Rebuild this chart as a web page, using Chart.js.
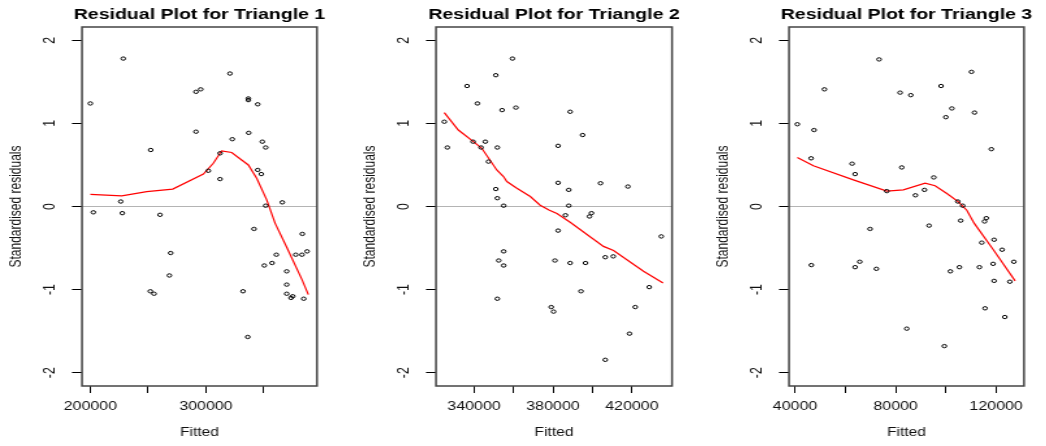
<!DOCTYPE html>
<html>
<head>
<meta charset="utf-8">
<script src="https://cdn.jsdelivr.net/npm/chart.js@4.4.0/dist/chart.umd.min.js"></script>
<style>
  html, body { margin: 0; padding: 0; background: #fff; }
  body { width: 1046px; height: 446px; overflow: hidden; position: relative; }
  /* the reference is an R plot stretched sideways, so each canvas is too */
  .panel { position: absolute; top: 0; transform: scaleX(1.3); transform-origin: 0 0; }
</style>
</head>
<body>
<canvas id="c1" class="panel" width="262" height="446"></canvas>
<canvas id="c2" class="panel" width="262" height="446"></canvas>
<canvas id="c3" class="panel" width="262" height="446"></canvas>
<script>
// --- data ---
const yTicks = [-2, -1, 0, 1, 2];

const fitted1 = [200000, 228500, 320800, 291400, 295500, 336700, 336700, 344800, 291400, 337000,
                 322800, 348800, 351700, 252200, 312200, 302100, 344800, 347900, 312200, 226300,
                 366100, 351700, 202600, 227700, 260300, 341600, 383400, 269500, 360900, 377700,
                 383100, 387500, 357200, 350500, 268400, 369900, 369900, 332100, 251900, 255100,
                 369900, 373600, 375100, 384600, 336200];
const resid1 = [1.24, 1.78, 1.60, 1.38, 1.41, 1.30, 1.28, 1.23, 0.90, 0.886,
                0.81, 0.78, 0.71, 0.68, 0.64, 0.43, 0.44, 0.39, 0.33, 0.06,
                0.05, 0.01, -0.07, -0.08, -0.10, -0.27, -0.33, -0.56, -0.58, -0.58,
                -0.58, -0.54, -0.68, -0.71, -0.83, -0.78, -0.94, -1.02, -1.02, -1.05,
                -1.05, -1.10, -1.08, -1.11, -1.57];
const lowessX1 = [200000, 227200, 248800, 271300, 297800, 306400, 313600, 322300, 336700, 343900,
                  352600, 359800, 369900, 383100, 388600];
const lowessY1 = [0.145, 0.128, 0.18, 0.21, 0.39, 0.52, 0.67, 0.65, 0.50, 0.34,
                  0.08, -0.20, -0.49, -0.88, -1.06];
const xTicks1 = [200000, 250000, 300000, 350000];
const xLabels1 = [200000, 300000];

const fitted2 = [359450, 351000, 336450, 341700, 354200, 361200, 388700, 324900, 395000, 339500,
                 345700, 326450, 343550, 351800, 382600, 347300, 382600, 404100, 418000, 351000,
                 388000, 351800, 355000, 388000, 386300, 399500, 398500, 382600, 434900, 355000,
                 352500, 355000, 381000, 388700, 396500, 406500, 410550, 351800, 394200, 428800,
                 379100, 380300, 421700, 418800, 406500];
const resid2 = [1.78, 1.58, 1.45, 1.24, 1.16, 1.19, 1.14, 1.02, 0.86, 0.78,
                0.78, 0.71, 0.71, 0.71, 0.73, 0.54, 0.285, 0.28, 0.24, 0.21,
                0.20, 0.10, 0.01, 0.01, -0.105, -0.08, -0.12, -0.29, -0.36, -0.54,
                -0.65, -0.71, -0.65, -0.68, -0.68, -0.61, -0.60, -1.11, -1.02, -0.97,
                -1.21, -1.265, -1.21, -1.53, -1.845];
const lowessX2 = [324900, 332000, 339650, 343900, 351500, 354900, 356600, 361700, 368500, 373500,
                  378200, 382000, 388700, 405600, 410700, 425900, 435800];
const lowessY2 = [1.13, 0.92, 0.78, 0.70, 0.44, 0.36, 0.30, 0.22, 0.12, 0.015,
                  -0.045, -0.085, -0.19, -0.48, -0.53, -0.78, -0.92];
const xTicks2 = [340000, 360000, 380000, 400000, 420000];
const xLabels2 = [340000, 380000, 420000];

const fitted3 = [73430, 110200, 98100, 51700, 81800, 86050, 102400, 111400, 100000, 40900,
                 47560, 118100, 46400, 62700, 82450, 63900, 95200, 76500, 91500, 87900,
                 104750, 106700, 105900, 116100, 115400, 69850, 93330, 119200, 114300, 122400,
                 46500, 63900, 65750, 72370, 101800, 105400, 113350, 118800, 127050, 119200,
                 125450, 115600, 123460, 84450, 99400];
const resid3 = [1.77, 1.62, 1.45, 1.41, 1.37, 1.34, 1.18, 1.13, 1.075, 0.99,
                0.92, 0.69, 0.58, 0.515, 0.47, 0.39, 0.35, 0.185, 0.20, 0.135,
                0.06, 0.01, -0.17, -0.14, -0.18, -0.27, -0.23, -0.40, -0.435, -0.52,
                -0.705, -0.73, -0.665, -0.75, -0.78, -0.73, -0.73, -0.69, -0.665, -0.895,
                -0.905, -1.225, -1.33, -1.47, -1.68];
const lowessX3 = [40900, 47300, 63200, 76500, 83100, 91740, 95720, 100400, 105000, 108340,
                  111240, 118900, 127560];
const lowessY3 = [0.59, 0.49, 0.32, 0.185, 0.20, 0.28, 0.25, 0.157, 0.056, -0.045,
                  -0.20, -0.52, -0.895];
const xTicks3 = [40000, 60000, 80000, 100000, 120000];
const xLabels3 = [40000, 80000, 120000];

// --- layout ---
const S = 1.3;          // horizontal stretch of the reference
const CW = 262;         // canvas width before the stretch
const AXW = 82;         // left margin (stretched px) up to the box
const FONT = '"Liberation Sans", Arial, Helvetica, sans-serif';

const panels = [
    { id: 'c1', title: 'Residual Plot for Triangle 1', fitted: fitted1, resid: resid1,
      lx: lowessX1, ly: lowessY1, ticks: xTicks1, labels: xLabels1,
      xMin: 192800, xMax: 396100, boxL: 82, boxR: 317 },
    { id: 'c2', title: 'Residual Plot for Triangle 2', fitted: fitted2, resid: resid2,
      lx: lowessX2, ly: lowessY2, ticks: xTicks2, labels: xLabels2,
      xMin: 320700, xMax: 440350, boxL: 436, boxR: 672 },
    { id: 'c3', title: 'Residual Plot for Triangle 3', fitted: fitted3, resid: resid3,
      lx: lowessX3, ly: lowessY3, ticks: xTicks3, labels: xLabels3,
      xMin: 37600, xMax: 131100, boxL: 789, boxR: 1024 }
];

// zero line, box, rotated y labels and the title, R style
const framePlugin = {
    id: 'frame',
    beforeDatasetsDraw(chart) {
        const { ctx, chartArea: a, scales: { y } } = chart;
        const y0 = y.getPixelForValue(0);
        ctx.save();
        ctx.strokeStyle = '#b4b4b4';
        ctx.lineWidth = 1;
        ctx.beginPath();
        ctx.moveTo(a.left, y0);
        ctx.lineTo(a.right, y0);
        ctx.stroke();
        ctx.restore();
    },
    afterDraw(chart, args, opts) {
        const { ctx, chartArea: a, scales: { y } } = chart;
        ctx.save();
        ctx.strokeStyle = '#444';
        ctx.lineWidth = 1.5;
        ctx.strokeRect(a.left, a.top, a.right - a.left, a.bottom - a.top);

        ctx.fillStyle = '#111';
        ctx.font = `12.3px ${FONT}`;
        ctx.textAlign = 'center';
        ctx.textBaseline = 'middle';
        yTicks.forEach(v => {
            ctx.save();
            ctx.translate(a.left - 32 / S, y.getPixelForValue(v));
            ctx.rotate(-Math.PI / 2);
            ctx.fillText(String(v), 0, 0);
            ctx.restore();
        });

        ctx.fillStyle = '#000';
        ctx.font = `bold 15px ${FONT}`;
        ctx.fillText(opts.text, (a.left + a.right) / 2, 15);
        ctx.restore();
    }
};

panels.forEach(p => {
    const el = document.getElementById(p.id);
    el.style.left = (p.boxL - AXW) + 'px';
    const rightInner = (p.boxR - p.boxL + AXW) / S;

    new Chart(el, {
        type: 'scatter',
        data: {
            datasets: [
                {
                    data: p.fitted.map((x, i) => ({ x, y: p.resid[i] })),
                    pointStyle: 'circle',
                    pointRadius: 1.7,
                    pointHoverRadius: 1.7,
                    borderWidth: 1,
                    borderColor: '#000',
                    backgroundColor: 'rgba(0,0,0,0)'
                },
                {
                    data: p.lx.map((x, i) => ({ x, y: p.ly[i] })),
                    showLine: true,
                    borderColor: '#ff0000',
                    borderWidth: 1.2,
                    pointRadius: 0,
                    tension: 0,
                    fill: false
                }
            ]
        },
        options: {
            responsive: false,
            animation: false,
            events: [],
            layout: { padding: { top: 27, left: 0, bottom: 0, right: CW - rightInner } },
            plugins: {
                legend: { display: false },
                tooltip: { enabled: false },
                title: { display: false },
                frame: { text: p.title }
            },
            scales: {
                x: {
                    type: 'linear',
                    min: p.xMin,
                    max: p.xMax,
                    afterBuildTicks: s => { s.ticks = p.ticks.map(v => ({ value: v })); },
                    afterFit: s => { s.height = 60; },
                    grid: { display: true, drawOnChartArea: false, drawTicks: true, tickLength: 7, color: '#000', lineWidth: 1 },
                    border: { display: false },
                    ticks: {
                        autoSkip: false, minRotation: 0, maxRotation: 0, padding: 6,
                        color: '#111', font: { family: FONT, size: 12.3 },
                        callback: v => p.labels.includes(v) ? String(v) : ''
                    },
                    title: { display: true, text: 'Fitted', color: '#111', font: { family: FONT, size: 12 }, padding: { top: 0, bottom: 6 } }
                },
                y: {
                    type: 'linear',
                    min: -2.16,
                    max: 2.16,
                    afterBuildTicks: s => { s.ticks = yTicks.map(v => ({ value: v })); },
                    afterFit: s => { s.width = AXW / S; },
                    grid: { display: true, drawOnChartArea: false, drawTicks: true, tickLength: 10 / S, color: '#000', lineWidth: 1 },
                    border: { display: false },
                    ticks: { display: false },
                    title: { display: true, text: 'Standardised residuals', color: '#111', font: { family: FONT, size: 12 }, padding: { top: 5, bottom: 0 } }
                }
            }
        },
        plugins: [framePlugin]
    });
});
</script>
</body>
</html>
